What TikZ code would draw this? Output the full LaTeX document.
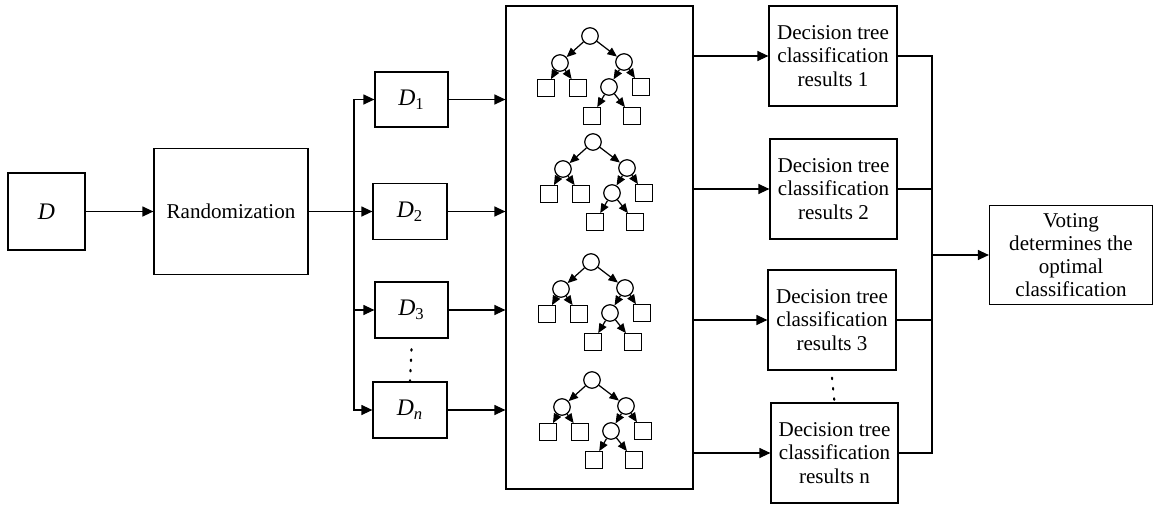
\documentclass[tikz,border=0pt]{standalone}
\usepackage{fontspec}
\setmainfont{Liberation Serif}
\usetikzlibrary{arrows.meta}

\tikzset{
  box/.style={draw, line width=0.7pt, inner sep=0pt, align=center, font=\fontsize{12}{13.2}\selectfont},
  dbox/.style={box, font=\fontsize{13.5}{15}\selectfont},
  arr/.style={-{Triangle[length=0.22cm, width=0.2cm]}, line width=0.7pt},
  tarr/.style={-{Triangle[length=0.19cm, width=0.16cm]}, line width=0.7pt},
  split/.style={draw, circle, line width=0.7pt, minimum size=0.33cm, inner sep=0pt},
  leaf/.style={draw, rectangle, line width=0.7pt, minimum size=0.33cm, inner sep=0pt},
  vdots/.style={line width=1.2pt, dash pattern=on 0.9pt off 5pt, line cap=round}
}

% one small decision tree, root at (#2,#3)
\newcommand{\dtree}[3]{
  \node[split] (#1r) at (#2,#3) {};
  \node[split] (#1a) at ({#2-30},{#3+27}) {};
  \node[split] (#1b) at ({#2+34},{#3+26}) {};
  \node[leaf] (#1a1) at ({#2-44},{#3+52}) {};
  \node[leaf] (#1a2) at ({#2-12},{#3+52}) {};
  \node[split] (#1c) at ({#2+19},{#3+51}) {};
  \node[leaf] (#1b2) at ({#2+51},{#3+51}) {};
  \node[leaf] (#1c1) at ({#2+2},{#3+80}) {};
  \node[leaf] (#1c2) at ({#2+42},{#3+80}) {};
  \draw[tarr] (#1r) -- (#1a);
  \draw[tarr] (#1r) -- (#1b);
  \draw[tarr] (#1a) -- (#1a1);
  \draw[tarr] (#1a) -- (#1a2);
  \draw[tarr] (#1b) -- (#1c);
  \draw[tarr] (#1b) -- (#1b2);
  \draw[tarr] (#1c) -- (#1c1);
  \draw[tarr] (#1c) -- (#1c2);
}

\begin{document}
\begin{tikzpicture}[x=0.02cm, y=-0.02cm]
\useasboundingbox (0,0) rectangle (1153,504);

% input and sampling
\node[dbox, minimum width=1.54cm, minimum height=1.54cm] (data) at (46.5,211.5) {\itshape D};
\node[box, minimum width=3.08cm, minimum height=2.52cm] (rand) at (231,211.5) {Randomization};
\node[dbox, minimum width=1.46cm, minimum height=1.1cm] (d1) at (411.5,99.5) {{\itshape D}\textsubscript{1}};
\node[dbox, minimum width=1.48cm, minimum height=1.12cm] (d2) at (410,211.5) {{\itshape D}\textsubscript{2}};
\node[dbox, minimum width=1.46cm, minimum height=1.12cm] (d3) at (411.5,310) {{\itshape D}\textsubscript{3}};
\node[dbox, minimum width=1.48cm, minimum height=1.12cm] (dn) at (410,410) {{\itshape D}\textsubscript{\itshape n}};
\coordinate (lbus) at (354,211.5);

% forest
\node[box, minimum width=3.74cm, minimum height=9.66cm] (forest) at (599.5,247.5) {};
\foreach \t/\tx/\ty in {t1/590/36, t2/593/142, t3/591/262, t4/592/380}{
  \dtree{\t}{\tx}{\ty}
}

% results and vote
\node[box, minimum width=2.56cm, minimum height=2cm] (res1) at (833,56) {Decision tree\\classification\\results 1};
\node[box, minimum width=2.54cm, minimum height=2cm] (res2) at (833.5,189) {Decision tree\\classification\\results 2};
\node[box, minimum width=2.56cm, minimum height=2cm] (res3) at (832,320) {Decision tree\\classification\\results 3};
\node[box, minimum width=2.54cm, minimum height=2cm] (resn) at (834.5,453) {Decision tree\\classification\\results n};
\node[box, minimum width=3.26cm, minimum height=1.98cm] (vote) at (1071,255) {Voting\\determines the\\optimal\\classification};
\coordinate (rbus) at (932,255);

% connectors
\draw[arr] (data) -- (rand);
\draw[arr] (rand) -- (d2);
\draw[arr] (lbus) |- (d1.west);
\draw[arr] (lbus) |- (d3.west);
\draw[arr] (lbus) |- (dn.west);
\foreach \d in {d1,d2,d3,dn}
  \draw[arr] (\d.east) -- (\d.east -| forest.west);
\foreach \r in {res1,res2,res3,resn}
  \draw[arr] (\r.west -| forest.east) -- (\r.west);
\draw[line width=0.7pt] (res1.east) -| (rbus);
\draw[line width=0.7pt] (resn.east) -| (rbus);
\draw[line width=0.7pt] (res2.east) -- (res2.east -| rbus);
\draw[line width=0.7pt] (res3.east) -- (res3.east -| rbus);
\draw[arr] (rbus) -- (vote);
\draw[vdots] ([yshift=-6pt]d3.south) -- (dn.north);
\draw[vdots] ([yshift=-4pt]res3.south) -- (resn.north);
\end{tikzpicture}
\end{document}
